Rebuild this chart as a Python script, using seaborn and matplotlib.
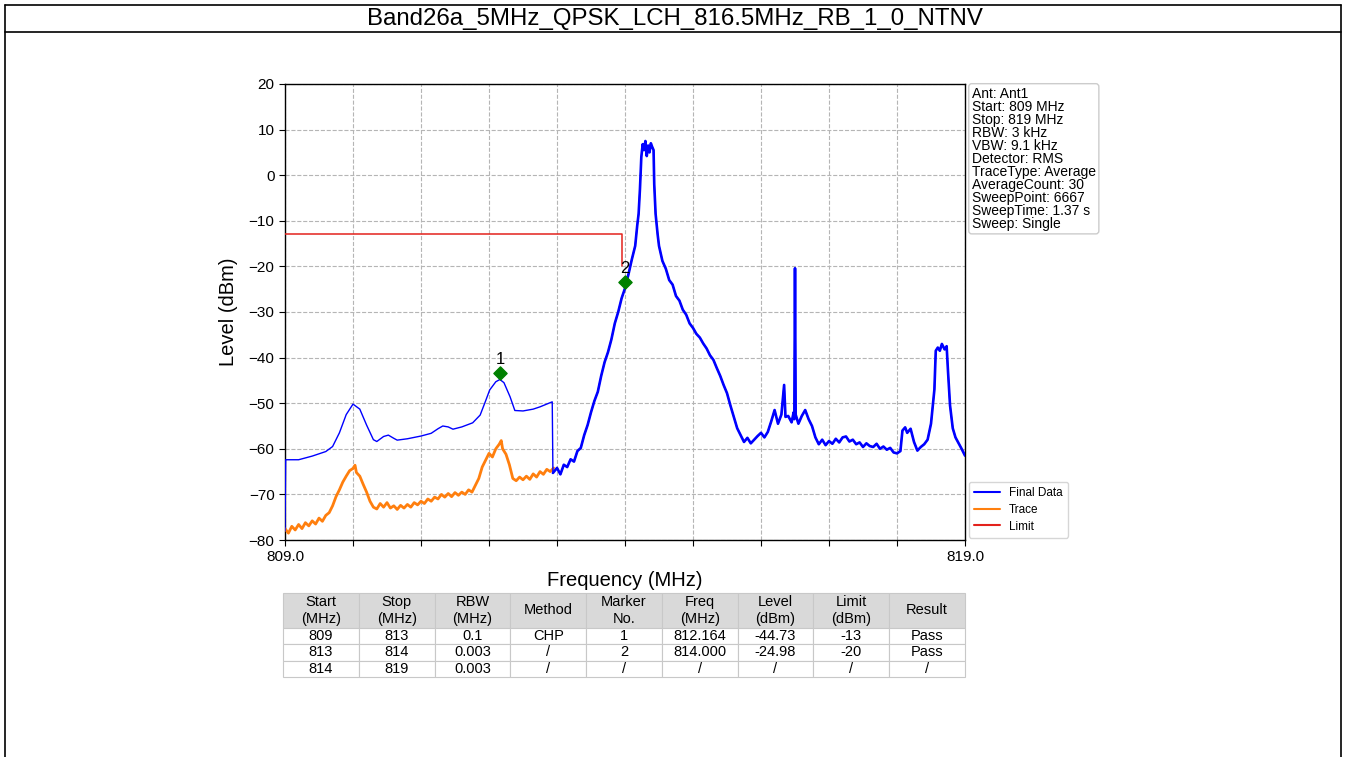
import numpy as np
import pandas as pd
import seaborn as sns
import matplotlib
matplotlib.use('Agg')
import matplotlib.pyplot as plt
from matplotlib.lines import Line2D

# ---- data ----
title = 'Band26a_5MHz_QPSK_LCH_816.5MHz_RB_1_0_NTNV'

final_freq = [809.0, 809.01, 809.2, 809.4, 809.6, 809.7, 809.8, 809.9, 810.0, 810.1, 810.2, 810.3,
              810.35, 810.45, 810.52, 810.6, 810.65, 810.8, 811.0, 811.15, 811.25, 811.32, 811.4,
              811.47, 811.6, 811.76, 811.87, 811.95, 812.01, 812.1, 812.16, 812.22, 812.31, 812.38,
              812.5, 812.65, 812.75, 812.93, 812.94,
              813.0, 813.05, 813.1, 813.15, 813.2, 813.25, 813.3, 813.35, 813.4, 813.45, 813.5,
              813.55, 813.6, 813.65, 813.7, 813.75, 813.8, 813.85, 813.9, 813.95, 814.0, 814.05,
              814.1, 814.15, 814.18, 814.2, 814.22, 814.24, 814.26, 814.28, 814.3, 814.32, 814.34,
              814.36, 814.38, 814.4, 814.42, 814.43, 814.45, 814.48, 814.5, 814.55, 814.6, 814.65,
              814.7, 814.75, 814.8, 814.85, 814.9, 814.95, 815.0, 815.05, 815.1, 815.15, 815.2,
              815.25, 815.3, 815.35, 815.4, 815.45, 815.5, 815.55, 815.6, 815.65, 815.7, 815.75,
              815.8, 815.85, 815.9, 815.95, 816.0, 816.05, 816.1, 816.15, 816.2, 816.25, 816.3,
              816.34, 816.36, 816.4, 816.45, 816.48, 816.49, 816.5, 816.51, 816.55, 816.6, 816.65,
              816.7, 816.75, 816.8, 816.85, 816.9, 816.95, 817.0, 817.05, 817.1, 817.15, 817.2,
              817.25, 817.3, 817.35, 817.4, 817.45, 817.5, 817.55, 817.6, 817.65, 817.7, 817.75,
              817.8, 817.85, 817.9, 817.95, 818.0, 818.05, 818.08, 818.12, 818.15, 818.2, 818.25,
              818.3, 818.35, 818.4, 818.45, 818.5, 818.55, 818.57, 818.6, 818.63, 818.66, 818.7,
              818.73, 818.75, 818.78, 818.82, 818.86, 818.9, 818.95, 819.0]
final_level = [-78.0, -62.4, -62.4, -61.6, -60.6, -59.5, -56.5, -52.5, -50.2, -51.3, -54.8, -58.0,
               -58.4, -57.3, -57.0, -57.7, -58.1, -57.8, -57.2, -56.6, -55.6, -55.0, -55.2,
               -55.7, -55.2, -54.3, -52.6, -49.5, -47.1, -45.3, -44.8, -45.5, -48.6, -51.6,
               -51.7, -51.3, -50.8, -49.7, -65.3,
               -64.2, -65.6, -63.5, -64.0, -62.3, -62.8, -60.5, -59.8, -57.0, -54.8, -52.0,
               -49.5, -47.5, -44.0, -41.0, -38.8, -36.0, -32.5, -30.0, -27.0, -24.8, -21.8,
               -18.5, -15.5, -11.0, -8.5, -3.0, 4.0, 6.8, 5.5, 7.5, 4.2, 6.5,
               5.0, 7.0, 6.2, 5.5, -2.0, -8.5, -13.0, -15.5, -18.8, -20.5, -23.0,
               -24.0, -26.5, -27.5, -29.5, -30.6, -32.5, -33.5, -34.8, -35.6, -36.9, -38.0,
               -39.5, -40.5, -42.3, -44.0, -46.0, -47.8, -50.5, -53.0, -55.5, -57.0, -58.5,
               -57.6, -58.8, -58.0, -57.2, -56.5, -57.5, -56.3, -54.0, -51.5, -54.5, -52.5,
               -46.0, -53.0, -52.8, -54.2, -52.0, -53.5, -20.4, -52.5, -54.5, -52.8, -51.5,
               -53.5, -55.0, -57.5, -59.0, -58.0, -59.2, -58.3, -58.9, -57.8, -58.6, -57.5,
               -57.3, -58.4, -58.0, -59.0, -58.6, -59.6, -58.8, -59.4, -59.6, -58.9, -60.0,
               -59.5, -60.2, -59.8, -60.8, -61.0, -60.5, -56.0, -55.3, -56.5, -55.6, -58.5,
               -60.4, -59.6, -59.0, -58.0, -54.5, -47.0, -38.5, -37.8, -38.5, -37.0, -38.2,
               -37.5, -43.0, -50.5, -55.5, -57.5, -58.6, -60.0, -61.5]

trace_freq = [809.0, 809.05, 809.1, 809.15, 809.2, 809.25, 809.3, 809.35, 809.4, 809.45, 809.5,
              809.55, 809.6, 809.65, 809.7, 809.75, 809.8, 809.85, 809.9, 809.95, 810.0, 810.03,
              810.05, 810.1, 810.15, 810.2, 810.25, 810.3, 810.35, 810.4, 810.45, 810.5, 810.55,
              810.6, 810.65, 810.7, 810.75, 810.8, 810.85, 810.9, 810.95, 811.0, 811.05, 811.1,
              811.15, 811.2, 811.25, 811.3, 811.35, 811.4, 811.45, 811.5, 811.55, 811.6, 811.65,
              811.7, 811.75, 811.8, 811.85, 811.9, 811.95, 812.0, 812.05, 812.1, 812.15, 812.18,
              812.2, 812.25, 812.3, 812.35, 812.4, 812.45, 812.5, 812.55, 812.6, 812.65, 812.7,
              812.75, 812.8, 812.85, 812.9, 812.95]
trace_level = [-77.5, -78.5, -77.0, -77.8, -76.6, -77.5, -76.2, -76.9, -75.8, -76.5, -75.2,
               -75.9, -74.6, -74.0, -72.5, -70.5, -69.0, -67.3, -66.0, -64.8, -64.3, -63.6,
               -65.2, -66.0, -67.8, -69.5, -71.5, -72.8, -73.2, -72.0, -72.8, -71.8, -73.0,
               -72.5, -73.3, -72.4, -73.0, -72.2, -72.8, -71.8, -72.3, -71.5, -72.0, -71.0,
               -71.5, -70.6, -71.0, -70.0, -70.6, -69.8, -70.5, -69.6, -70.2, -69.5, -70.0,
               -69.0, -69.5, -68.0, -66.5, -64.0, -62.5, -61.0, -61.8, -60.0, -59.0, -58.2,
               -60.0, -61.2, -63.5, -66.5, -67.0, -66.2, -66.8, -66.0, -66.7, -65.5, -66.2,
               -65.0, -65.6, -64.5, -65.0, -64.2]

limit_freq = [809.0, 813.96, 813.96]
limit_level = [-13, -13, -20]

marker_no = ['1', '2']
marker_freq = [812.164, 814.0]
marker_level = [-43.3, -23.4]

info_lines = ['Ant: Ant1', 'Start: 809 MHz', 'Stop: 819 MHz', 'RBW: 3 kHz', 'VBW: 9.1 kHz',
              'Detector: RMS', 'TraceType: Average', 'AverageCount: 30', 'SweepPoint: 6667',
              'SweepTime: 1.37 s', 'Sweep: Single']

col_labels = ['Start\n(MHz)', 'Stop\n(MHz)', 'RBW\n(MHz)', 'Method', 'Marker\nNo.',
              'Freq\n(MHz)', 'Level\n(dBm)', 'Limit\n(dBm)', 'Result']
row_start = ['809', '813', '814']
row_stop = ['813', '814', '819']
row_rbw = ['0.1', '0.003', '0.003']
row_method = ['CHP', '/', '/']
row_marker = ['1', '2', '/']
row_freq = ['812.164', '814.000', '/']
row_levels = ['-44.73', '-24.98', '/']
row_limit = ['-13', '-20', '/']
row_result = ['Pass', 'Pass', '/']

# ---- figure ----
sns.set_theme(style='white')
plt.rcParams['font.family'] = ['Liberation Sans', 'DejaVu Sans']
plt.rcParams['text.color'] = 'black'
plt.rcParams['axes.labelcolor'] = 'black'
plt.rcParams['xtick.color'] = 'black'
plt.rcParams['ytick.color'] = 'black'

W, H = 1346, 757
fig = plt.figure(figsize=(W / 100, H / 100), dpi=100)

# outer frame + title row
for xs, ys in [([5 / W, 5 / W], [0, 1 - 5 / H]), ([1341 / W, 1341 / W], [0, 1 - 5 / H]),
               ([5 / W, 1341 / W], [1 - 5 / H, 1 - 5 / H]), ([5 / W, 1341 / W], [1 - 32 / H, 1 - 32 / H])]:
    fig.add_artist(Line2D(xs, ys, transform=fig.transFigure, color='black', lw=1.2))
fig.text(675 / W, 1 - 19 / H, title, ha='center', va='center', fontsize=17.3)

ax = fig.add_axes([285 / W, 1 - 540 / H, 680 / W, 456 / H])

final_df = pd.DataFrame({'Frequency': final_freq, 'Level': final_level})
trace_df = pd.DataFrame({'Frequency': trace_freq, 'Level': trace_level})
limit_df = pd.DataFrame({'Frequency': limit_freq, 'Level': limit_level})
noisy_df = final_df.iloc[38:]

sns.lineplot(data=trace_df, x='Frequency', y='Level', ax=ax, color='#ff7f0e', lw=2.0,
             sort=False, estimator=None, label='Trace', zorder=3)
sns.lineplot(data=final_df, x='Frequency', y='Level', ax=ax, color='#0000ff', lw=1.0,
             sort=False, estimator=None, label='Final Data', zorder=4)
sns.lineplot(data=noisy_df, x='Frequency', y='Level', ax=ax, color='#0000ff', lw=1.9,
             sort=False, estimator=None, zorder=4)
sns.lineplot(data=limit_df, x='Frequency', y='Level', ax=ax, color='#e3221c', lw=1.1,
             sort=False, estimator=None, label='Limit', zorder=5)

ax.scatter(marker_freq, marker_level, marker='D', s=45, color='#008000', zorder=6)
for n, fx, lv in zip(marker_no, marker_freq, marker_level):
    ax.annotate(n, (fx, lv), xytext=(0, 4), textcoords='offset points', ha='center',
                va='bottom', fontsize=12, color='black', zorder=7)

ax.set_xlim(809, 819)
ax.set_ylim(-80, 20)
ax.set_xticks(np.arange(809, 820, 1))
ax.set_xticklabels(['809.0'] + [''] * 9 + ['819.0'], fontsize=11)
ax.set_yticks(np.arange(-80, 21, 10))
ax.tick_params(axis='y', labelsize=11, length=4, width=0.8, direction='out', left=True)
ax.tick_params(axis='x', length=4, width=0.8, direction='out', bottom=True)
ax.grid(True, ls='--', color='#b5b5b5', lw=0.8)
for sp in ax.spines.values():
    sp.set_color('black')
    sp.set_linewidth(1.0)
ax.set_xlabel('Frequency (MHz)', fontsize=14.5, labelpad=5)
ax.set_ylabel('Level (dBm)', fontsize=14.5, labelpad=8)

handles, labels = ax.get_legend_handles_labels()
order = [labels.index(k) for k in ['Final Data', 'Trace', 'Limit']]
leg = ax.legend([handles[i] for i in order], [labels[i] for i in order],
                loc='lower left', bbox_to_anchor=(1.0, -0.003), fontsize=8.5,
                frameon=True, fancybox=True, handlelength=2.2, borderpad=0.45,
                labelspacing=0.4, borderaxespad=0.3)
leg.get_frame().set_edgecolor('#cccccc')
for h in leg.get_lines():
    h.set_linewidth(1.5)

ax.text(1.01, 0.994, '\n'.join(info_lines), transform=ax.transAxes, ha='left', va='top',
        fontsize=10, linespacing=0.91,
        bbox=dict(boxstyle='round,pad=0.22', fc='white', ec='#cccccc', lw=1))

# ---- table ----
tax = fig.add_axes([283 / W, 1 - 677 / H, 682 / W, 84 / H])
tax.axis('off')
rows = list(zip(row_start, row_stop, row_rbw, row_method, row_marker,
                row_freq, row_levels, row_limit, row_result))
tbl = tax.table(cellText=[list(r) for r in rows], colLabels=col_labels, cellLoc='center',
                bbox=[0, 0, 1, 1])
tbl.auto_set_font_size(False)
hh = 35 / 84
rh = (1 - hh) / 3
for (r, c), cell in tbl.get_celld().items():
    cell.set_edgecolor('#c8c8c8')
    cell.set_linewidth(0.8)
    cell.get_text().set_fontsize(10.5)
    if r == 0:
        cell.set_facecolor('#d9d9d9')
        cell.set_height(hh)
    else:
        cell.set_height(rh)

fig.savefig('out.png', dpi=100)
